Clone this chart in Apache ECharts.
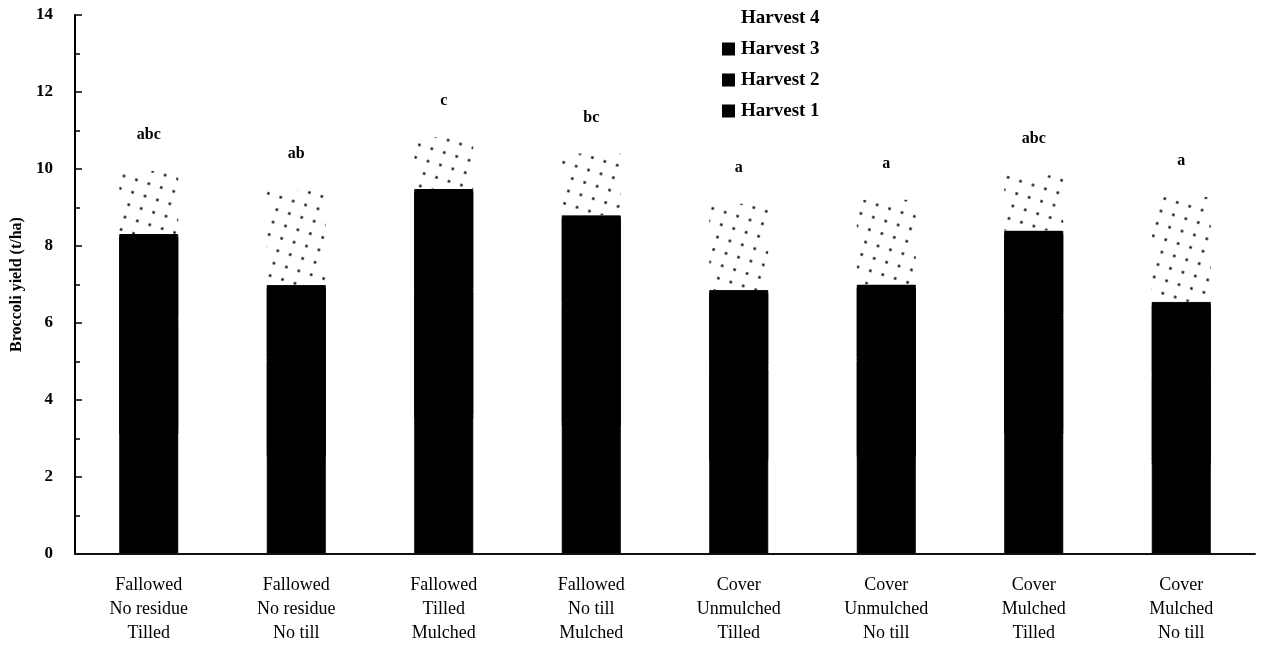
<!DOCTYPE html>
<html>
<head>
<meta charset="utf-8">
<script src="https://cdn.jsdelivr.net/npm/echarts@6/dist/echarts.min.js"></script>
<style>
  html, body { margin: 0; padding: 0; background: #fff; }
  #chart { width: 1264px; height: 651px; }
</style>
</head>
<body>
<div id="chart"></div>
<script>
// Treatments (fallow / cover crop, residue, tillage)
const categories = [
  'Fallowed\nNo residue\nTilled',
  'Fallowed\nNo residue\nNo till',
  'Fallowed\nTilled\nMulched',
  'Fallowed\nNo till\nMulched',
  'Cover\nUnmulched\nTilled',
  'Cover\nUnmulched\nNo till',
  'Cover\nMulched\nTilled',
  'Cover\nMulched\nNo till'
];

// Broccoli yield per harvest (t/ha)
const harvest1 = [3.2, 2.6, 3.6, 3.4, 2.5, 2.6, 3.2, 2.4];
const harvest2 = [2.9, 2.5, 3.3, 3.1, 2.4, 2.5, 3.0, 2.3];
const harvest3 = [2.21, 1.89, 2.58, 2.3, 1.96, 1.9, 2.2, 1.85];
const harvest4 = [1.64, 2.46, 1.35, 1.6, 2.24, 2.2, 1.44, 2.72];

// Mean separation letters shown above each stack
const letters = ['abc', 'ab', 'c', 'bc', 'a', 'a', 'abc', 'a'];

const yTicks = [0, 2, 4, 6, 8, 10, 12, 14];

const serif = 'Liberation Serif';
const barWidth = '40%';

const chart = echarts.init(document.getElementById('chart'));

// Solid black segments; a downward shadow on the upper pieces closes the
// hairline seam between stacked pieces so they read as one block.
const solidSeries = (name, data, seamFill) => ({
  name: name,
  type: 'bar',
  stack: 'yield',
  barWidth: barWidth,
  data: data,
  itemStyle: {
    color: '#000',
    borderColor: '#000',
    borderWidth: 1,
    shadowColor: '#000',
    shadowBlur: 0,
    shadowOffsetY: seamFill ? 3 : 0
  }
});

chart.setOption({
  animation: false,
  backgroundColor: '#fff',
  grid: { left: 75, right: 9, top: 15, bottom: 97, containLabel: false, outerBoundsMode: 'none' },
  legend: {
    orient: 'vertical',
    left: 717,
    top: 3,
    itemWidth: 11,
    itemHeight: 11,
    itemGap: 11,
    icon: 'rect',
    data: [
      { name: 'Harvest 4', itemStyle: { color: '#fff', borderWidth: 0, decal: 'none' } },
      { name: 'Harvest 3', itemStyle: { shadowOffsetY: 0 } },
      { name: 'Harvest 2', itemStyle: { shadowOffsetY: 0 } },
      { name: 'Harvest 1', itemStyle: { shadowOffsetY: 0 } }
    ],
    textStyle: {
      fontFamily: serif, fontWeight: 'bold', fontSize: 19, color: '#000',
      lineHeight: 20, padding: [0, 0, 0, 2]
    }
  },
  xAxis: {
    type: 'category',
    data: categories,
    z: 5,
    axisLine: { lineStyle: { color: '#111', width: 2 } },
    axisTick: { show: false },
    axisLabel: {
      interval: 0,
      margin: 19,
      fontFamily: serif,
      fontSize: 18,
      lineHeight: 24,
      color: '#000'
    }
  },
  yAxis: {
    type: 'value',
    min: 0,
    max: 14,
    interval: 2,
    name: 'Broccoli yield (t/ha)',
    nameLocation: 'middle',
    nameGap: 50,
    nameTextStyle: { fontFamily: serif, fontWeight: 'bold', fontSize: 16, color: '#000' },
    axisLine: { show: true, lineStyle: { color: '#000', width: 2 } },
    axisTick: { show: true, inside: true, length: 7, lineStyle: { color: '#000', width: 1.5 } },
    minorTick: { show: true, splitNumber: 2, length: 5, lineStyle: { color: '#000', width: 1.5 } },
    splitLine: { show: false },
    axisLabel: {
      fontFamily: serif,
      fontWeight: 'bold',
      fontSize: 17,
      color: '#000',
      margin: 22,
      formatter: v => (yTicks.indexOf(v) >= 0 ? String(v) : '')
    }
  },
  series: [
    solidSeries('Harvest 1', harvest1, false),
    solidSeries('Harvest 2', harvest2, true),
    solidSeries('Harvest 3', harvest3, true),
    {
      name: 'Harvest 4',
      type: 'bar',
      stack: 'yield',
      barWidth: barWidth,
      data: harvest4,
      itemStyle: {
        color: '#fff',
        decal: {
          symbol: 'rect',
          symbolSize: 0.8,
          color: '#000',
          dashArrayX: [[3, 10]],
          dashArrayY: [3, 10],
          rotation: 0.3
        }
      },
      label: {
        show: true,
        position: 'top',
        distance: 28,
        fontFamily: serif,
        fontWeight: 'bold',
        fontSize: 16,
        color: '#000',
        formatter: p => letters[p.dataIndex]
      }
    }
  ]
});
</script>
</body>
</html>
